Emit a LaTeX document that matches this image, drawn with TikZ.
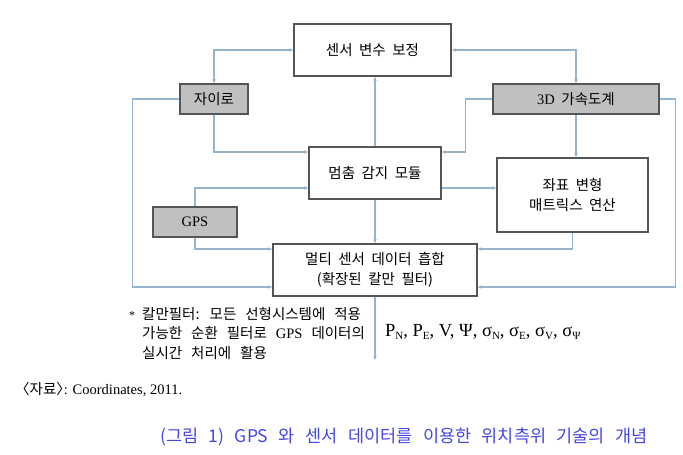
\documentclass[tikz,border=0pt]{standalone}
\usepackage{fontspec}
\setmainfont{Liberation Serif}
\newfontfamily\kr{Noto Sans CJK KR}
\usetikzlibrary{arrows.meta}
\definecolor{linec}{RGB}{150,180,205}
\definecolor{boxc}{RGB}{85,85,85}
\definecolor{grayf}{RGB}{192,192,192}
\definecolor{capc}{RGB}{70,70,225}
\newcommand{\krtxt}{\kr\fontsize{14.5}{20}\selectfont\spaceskip=6.5pt\relax}
\newcommand{\krnote}{\kr\fontsize{14.5}{19.5}\selectfont\spaceskip=9pt\relax}
\newcommand{\krcap}{\kr\fontsize{17.5}{19}\selectfont\spaceskip=10.5pt\relax}
\newcommand{\sbs}[1]{\raisebox{-0.35ex}{\fontsize{11}{12}\selectfont #1}}
\begin{document}
\begin{tikzpicture}[x=1pt,y=-1pt,
  wbox/.style={draw=boxc,line width=1.6pt,fill=white,inner sep=0pt,font=\krtxt,align=center},
  gbox/.style={draw=boxc,line width=1.6pt,fill=grayf,inner sep=0pt,font=\krtxt},
  conn/.style={draw=linec,line width=1.1pt},
  tip/.style={-{Stealth[length=4pt,width=3.5pt]}},
  btip/.style={{Stealth[length=4pt,width=3.5pt]}-{Stealth[length=4pt,width=3.5pt]}}]
\useasboundingbox (0,0) rectangle (683,455);
% boxes
\node[wbox,minimum width=157pt,minimum height=52pt] (sen) at (372.5,50) {센서 변수 보정};
\node[gbox,minimum width=68pt,minimum height=30pt] (gyro) at (214,99) {자이로};
\node[gbox,minimum width=166pt,minimum height=30pt] (acc) at (576,99) {{\rmfamily 3D} 가속도계};
\node[wbox,minimum width=132pt,minimum height=52pt] (stop) at (375,173) {멈춤 감지 모듈};
\node[wbox,minimum width=151pt,minimum height=74pt] (coord) at (572.5,195) {좌표 변형\\매트릭스 연산};
\node[gbox,minimum width=84pt,minimum height=30pt] (gps) at (195,222) {\rmfamily GPS};
\node[wbox,minimum width=204pt,minimum height=52pt] (multi) at (375,270) {멀티 센서 데이터 흡합\\(확장된 칼만 필터)};
\coordinate (out) at (375,360);
% connectors
\draw[conn,btip] (gyro.north) |- (sen.west);
\draw[conn,btip] (sen.east) -| (acc.north);
\draw[conn,tip] (stop.north) -- (stop.north |- sen.south);
\draw[conn,tip] (gyro.south) |- ([yshift=21pt]stop.west);
\draw[conn,tip] (acc.west) -- ++(-27,0) |- ([yshift=21pt]stop.east);
\draw[conn,tip] (acc.south) -- (acc.south |- coord.north);
\draw[conn,tip] (acc.east) -- ++(16,0) |- ([yshift=-17pt]multi.east);
\draw[conn,tip] (gyro.west) -- ++(-47,0) |- ([yshift=-17pt]multi.west);
\draw[conn,tip] (gps.north) |- ([yshift=-15pt]stop.west);
\draw[conn,tip] (gps.south) |- ([yshift=21pt]multi.west);
\draw[conn,tip] ([yshift=-15pt]stop.east) -- ([yshift=-15pt]stop.east -| coord.west);
\draw[conn,tip] (stop.south) -- (multi.north);
\draw[conn,tip] (coord.south) |- ([yshift=21pt]multi.east);
\draw[conn,tip] (multi.south) -- (out);
% notes
\node[anchor=base west,inner sep=0pt,font=\fontsize{12}{14}\selectfont] (star) at (129,319) {*};
\node[anchor=north west,inner sep=0pt,align=left,font=\krnote] (note) at (142,307) {칼만필터: 모든 선형시스템에 적용\\가능한 순환 필터로 {\rmfamily GPS} 데이터의\\실시간 처리에 활용};
\node[anchor=west,inner sep=0pt,font=\fontsize{18.5}{20}\selectfont] (math) at (385,332)
 {P\sbs{N}, P\sbs{E}, V, Ψ, σ\sbs{N}, σ\sbs{E}, σ\sbs{V}, σ\sbs{Ψ}};
\node[anchor=west,inner sep=0pt,font=\fontsize{14.5}{16}\selectfont] (src) at (22,389) {{\kr\hspace{-7pt}〈자료〉\hspace{-7pt}}: Coordinates, 2011.};
\node[anchor=west,inner sep=0pt,text=capc,font=\krcap] (cap) at (160,437) {(그림 1) GPS 와 센서 데이터를 이용한 위치측위 기술의 개념};
\end{tikzpicture}
\end{document}
